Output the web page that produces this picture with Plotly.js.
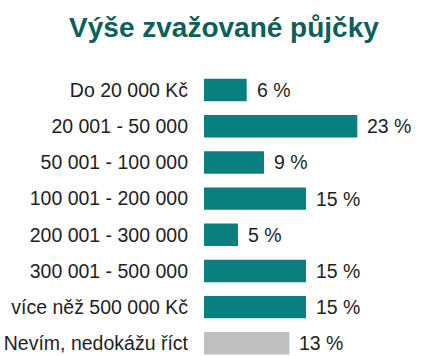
<!DOCTYPE html>
<html>
<head>
<meta charset="utf-8">
<script src="https://cdn.plot.ly/plotly-3.0.1.min.js"></script>
<style>html,body{margin:0;padding:0;background:#fff;}#chart{width:429px;height:356px;}</style>
</head>
<body>
<div id="chart"></div>
<script>
const categories = ["Do 20 000 Kč", "20 001 - 50 000", "50 001 - 100 000", "100 001 - 200 000", "200 001 - 300 000", "300 001 - 500 000", "více něž 500 000 Kč", "Nevím, nedokážu říct"];
const values = [6.4, 23, 9, 15.3, 5.1, 15.3, 15.3, 12.8];
const valueLabels = ["6 %", "23 %", "9 %", "15 %", "5 %", "15 %", "15 %", "13 %"];
const barColors = ["#0a7f80", "#0a7f80", "#0a7f80", "#0a7f80", "#0a7f80", "#0a7f80", "#0a7f80", "#bfbfbf"];

const trace = {
  type: "bar",
  orientation: "h",
  y: categories,
  x: values,
  width: 0.62,
  marker: {color: barColors, line: {width: 0}},
  hoverinfo: "none"
};

const annotations = categories.map((c, i) => ({
  x: values[i], y: c, xref: "x", yref: "y",
  text: valueLabels[i], showarrow: false,
  xanchor: "left", xshift: 8,
  font: {family: "Liberation Sans, Arial, sans-serif", size: 19.5, color: "#1e1e1e"}
}));

const layout = {
  width: 429, height: 356,
  margin: {l: 204, r: 25, t: 72, b: 0},
  paper_bgcolor: "#fff", plot_bgcolor: "#fff",
  showlegend: false,
  title: {
    text: "<b>Výše zvažované půjčky</b>",
    x: 0.522, xanchor: "center", xref: "container",
    y: 0.925, yanchor: "middle", yref: "container",
    font: {family: "Liberation Sans, Arial, sans-serif", size: 28, color: "#0d5f5a"}
  },
  xaxis: {range: [0, 30], visible: false, fixedrange: true},
  yaxis: {
    type: "category",
    range: [7.35, -0.5],
    showline: false, showgrid: false, zeroline: false,
    ticks: "", ticklabelstandoff: 15,
    tickfont: {family: "Liberation Sans, Arial, sans-serif", size: 19.5, color: "#1e1e1e"}
  },
  annotations: annotations
};

Plotly.newPlot("chart", [trace], layout, {displayModeBar: false, staticPlot: true});
</script>
</body>
</html>
